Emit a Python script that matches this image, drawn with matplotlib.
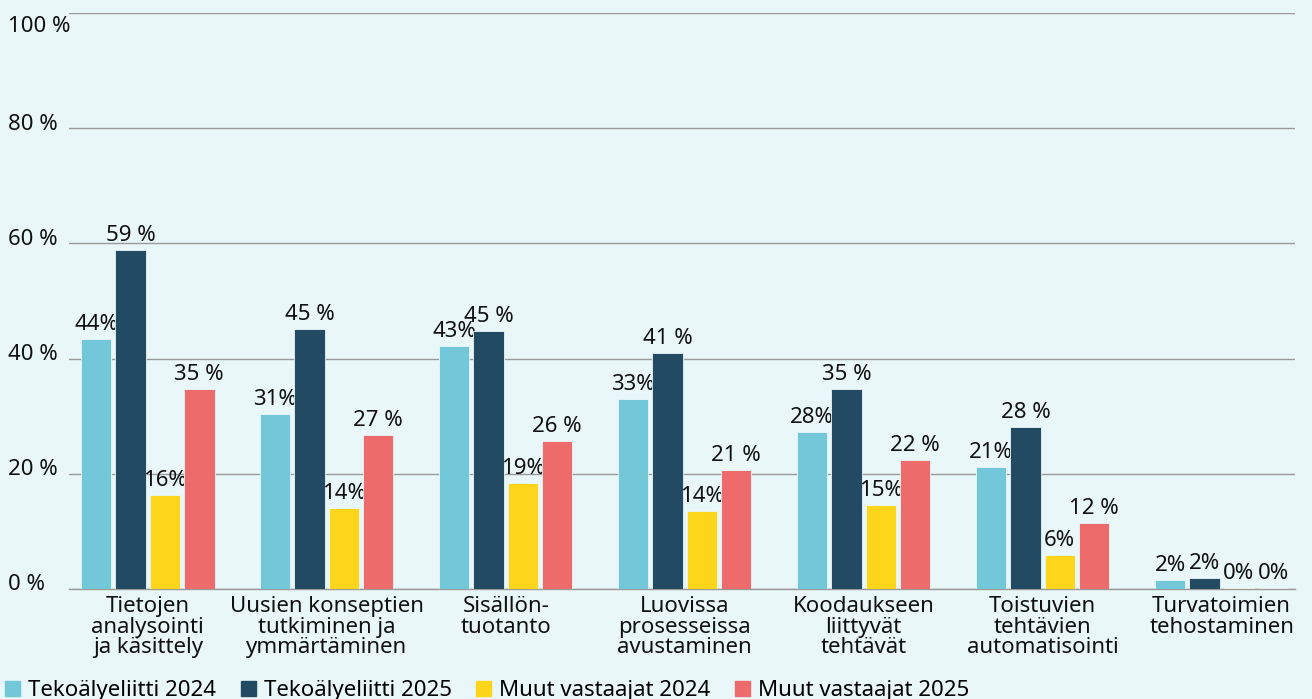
import matplotlib.pyplot as plt
from matplotlib.patches import Patch
from matplotlib.transforms import blended_transform_factory, offset_copy

plt.rcParams['font.family'] = ['Noto Sans', 'DejaVu Sans']

# Data
categories = ['Tietojen\nanalysointi\nja käsittely',
              'Uusien konseptien\ntutkiminen ja\nymmärtäminen',
              'Sisällön-\ntuotanto',
              'Luovissa\nprosesseissa\navustaminen',
              'Koodaukseen\nliittyvät\ntehtävät',
              'Toistuvien\ntehtävien\nautomatisointi',
              'Turvatoimien\ntehostaminen']
series_names = ['Tekoälyeliitti 2024', 'Tekoälyeliitti 2025',
                'Muut vastaajat 2024', 'Muut vastaajat 2025']
elite_2024 = [43.4, 30.4, 42.2, 33.0, 27.3, 21.2, 1.6]
elite_2025 = [58.9, 45.1, 44.8, 41.0, 34.7, 28.1, 1.9]
others_2024 = [16.3, 14.1, 18.4, 13.5, 14.6, 5.9, 0.2]
others_2025 = [34.7, 26.7, 25.7, 20.7, 22.4, 11.5, 0.2]
elite_2024_labels = ['44%', '31%', '43%', '33%', '28%', '21%', '2%']
elite_2025_labels = ['59 %', '45 %', '45 %', '41 %', '35 %', '28 %', '2%']
others_2024_labels = ['16%', '14%', '19%', '14%', '15%', '6%', '0%']
others_2025_labels = ['35 %', '27 %', '26 %', '21 %', '22 %', '12 %', '0%']
yticks = [0, 20, 40, 60, 80, 100]

colors = ['#72c7d9', '#234a63', '#fdd61c', '#ee6b6b']
bg = '#e9f7f8'
fs = 16

fig = plt.figure(figsize=(13.12, 6.99), dpi=100, facecolor=bg)
ax = fig.add_axes([0.0526, 0.1574, 0.9344, 0.824])
ax.set_facecolor(bg)

values = [elite_2024, elite_2025, others_2024, others_2025]
labels = [elite_2024_labels, elite_2025_labels, others_2024_labels, others_2025_labels]
x = list(range(len(categories)))
step = 0.192
width = 0.17
for i in range(4):
    xs = [xi + (i - 1.5) * step for xi in x]
    bars = ax.bar(xs, values[i], width, color=colors[i], edgecolor='#e9f7f8',
                  linewidth=0.6, zorder=3)
    ax.bar_label(bars, labels=labels[i], padding=3, fontsize=fs, color='#111111')

ax.set_xlim(-0.44, 6.41)
ax.set_ylim(0, 100)

# gridlines
ax.set_yticks(yticks)
ax.set_yticklabels([])
ax.tick_params(axis='y', length=0)
ax.grid(axis='y', color='#999999', linewidth=1)
ax.set_axisbelow(True)

trans = blended_transform_factory(fig.transFigure, ax.transData)
for v in yticks:
    if v == 100:
        t = offset_copy(trans, fig=fig, x=0, y=-13, units='dots')
    else:
        t = offset_copy(trans, fig=fig, x=0, y=4, units='dots')
    ax.text(0.006, v, f'{v} %', transform=t, ha='left', va='center',
            fontsize=fs, color='#111111')

ax.set_xticks(x)
ax.set_xticklabels(categories, fontsize=fs, linespacing=0.98, color='#111111')
ax.tick_params(axis='x', length=0, pad=5)

for s in ['top', 'right', 'left']:
    ax.spines[s].set_visible(False)
ax.spines['bottom'].set_color('#999999')
ax.spines['bottom'].set_linewidth(1)

handles = [Patch(color=c, label=n) for c, n in zip(colors, series_names)]
fig.legend(handles=handles, loc='lower left', bbox_to_anchor=(0.004, -0.003),
           ncol=4, frameon=False, fontsize=fs, handlelength=0.68, handleheight=0.68,
           handletextpad=0.36, columnspacing=1.1, borderaxespad=0, borderpad=0)

fig.savefig('out.png', dpi=100, facecolor=bg)
